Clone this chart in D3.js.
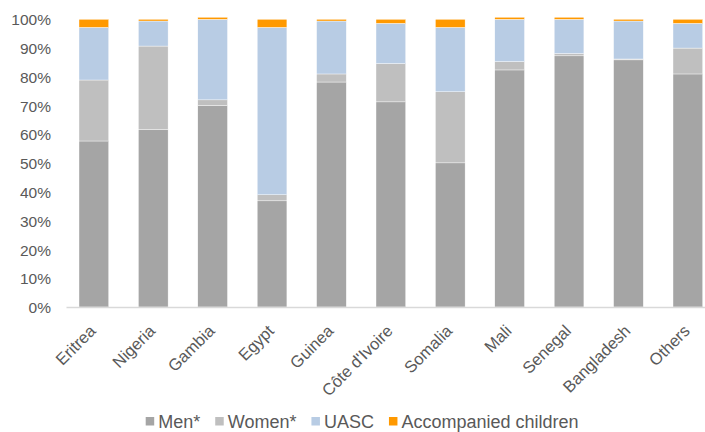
<!DOCTYPE html>
<html><head><meta charset="utf-8">
<script src="https://cdn.jsdelivr.net/npm/d3@7"></script>
<style>
html,body{margin:0;padding:0;background:#fff;}
svg{display:block;font-family:"Liberation Sans",Arial,sans-serif;}
</style></head>
<body><svg id="chart" width="705" height="432"></svg>
<script>
const categories = ["Eritrea","Nigeria","Gambia","Egypt","Guinea","Côte d'Ivoire","Somalia","Mali","Senegal","Bangladesh","Others"];
const men   = [57.7, 61.8, 70.1, 36.9, 78.2, 71.3, 50.1, 82.4, 87.3, 85.9, 81.0];
const women = [21.2, 28.9,  1.9,  2.1,  2.8, 13.3, 24.7,  2.9,  0.8,  0.3,  9.0];
const uasc  = [18.3,  8.7, 28.0, 58.2, 18.4, 14.0, 22.4, 14.7, 11.9, 13.2,  8.6];
const accompanied = [2.8, 0.6, 0.7, 2.8, 0.6, 1.4, 2.8, 0.7, 0.7, 0.6, 1.4];
const seriesNames = ["Men*","Women*","UASC","Accompanied children"];
const seriesKeys = ["men","women","uasc","acc"];
const colors = ["#a5a5a5","#bfbfbf","#b8cce4","#ff9900"];
const yTicks = [0,10,20,30,40,50,60,70,80,90,100];

const table = categories.map((c,i)=>({cat:c, men:men[i], women:women[i], uasc:uasc[i], acc:accompanied[i]}));
const stacked = d3.stack().keys(seriesKeys)(table);

const svg = d3.select("#chart");
const x = d3.scaleBand().domain(categories).range([64.15, 717.55]).paddingInner(0.5).paddingOuter(0.25);
const y = d3.scaleLinear().domain([0,100]).range([307, 19.3]);
const textColor = "#595959";

// bars
svg.append("g").selectAll("g").data(stacked).join("g")
  .attr("fill",(d,i)=>colors[i])
  .selectAll("rect").data(d=>d).join("rect")
  .attr("x",d=>x(d.data.cat))
  .attr("width",x.bandwidth())
  .attr("y",d=>y(d[1]))
  .attr("height",d=>Math.max(0,y(d[0])-y(d[1])))
  .attr("stroke","#ffffff").attr("stroke-width",0.4);

// baseline
svg.append("line").attr("x1",66.5).attr("x2",705).attr("y1",y(0)+0.5).attr("y2",y(0)+0.5)
  .attr("stroke","#d9d9d9").attr("stroke-width",1.5);

// y axis
const yAxis = d3.axisLeft(y).tickValues(yTicks).tickFormat(d=>d+"%").tickSize(0).tickPadding(0);
const yg = svg.append("g").attr("transform","translate(51,0)").call(yAxis);
yg.select(".domain").remove();
yg.selectAll("text").attr("fill",textColor).style("font-size","15.5px").attr("dy","0.36em");

// x axis
const xAxis = d3.axisBottom(x).tickSize(0).tickPadding(0);
const xg = svg.append("g").attr("transform",`translate(0,${y(0)})`).call(xAxis);
xg.select(".domain").remove();
xg.selectAll("text")
  .attr("fill",textColor).style("font-size","16.5px")
  .attr("text-anchor","end")
  .attr("dy",0).attr("y",0)
  .attr("transform","translate(3,25) rotate(-45)");

// legend
const lg = svg.append("g");
let lx = 145.7;
seriesNames.forEach((name,i)=>{
  lg.append("rect").attr("x",lx).attr("y",417).attr("width",8.5).attr("height",8.5).attr("fill",colors[i]);
  const t = lg.append("text").attr("x",lx+12.5).attr("y",428).attr("fill",textColor)
    .style("font-size","18px").text(name);
  lx += 12.5 + t.node().getComputedTextLength() + 15;
});
</script></body></html>
